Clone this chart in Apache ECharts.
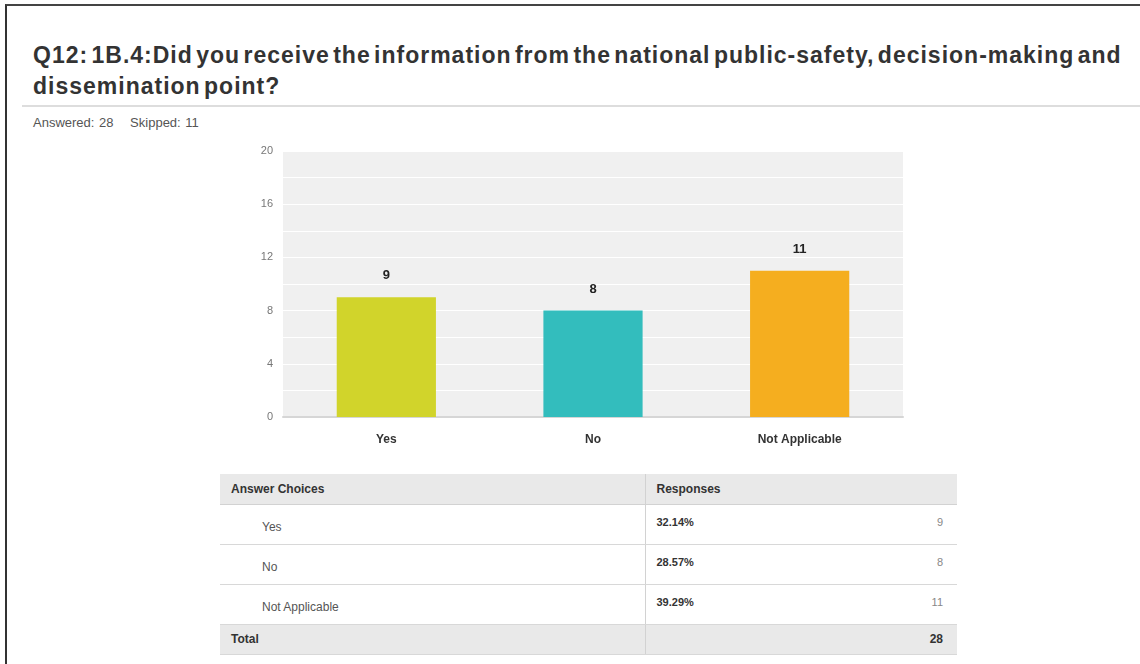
<!DOCTYPE html>
<html>
<head>
<meta charset="utf-8">
<script src="https://cdn.jsdelivr.net/npm/echarts@6/dist/echarts.min.js"></script>
<style>
  html, body { margin: 0; padding: 0; background: #fff; }
  body { width: 1140px; height: 664px; position: relative; overflow: hidden;
         font-family: "Liberation Sans", Arial, sans-serif; }
  #frame { position: absolute; left: 5px; top: 4px; width: 1140px; height: 680px;
           border-left: 2px solid #333; border-top: 2px solid #444; }
  #title { position: absolute; left: 33px; top: 40px; width: 1105px;
           font-size: 23px; font-weight: bold; color: #333; line-height: 31px;
           letter-spacing: 1px; word-spacing: -4px; }
  #rule { position: absolute; left: 22px; top: 105px; width: 1120px; height: 2px; background: #ddd; }
  #meta { position: absolute; left: 33px; top: 115px; font-size: 13px; color: #555; word-spacing: 1px; }
  #meta span { margin-right: 12px; }
  #chart { position: absolute; left: 0; top: 0; width: 1140px; height: 470px; }
  table { position: absolute; left: 220px; top: 474px; width: 737px; border-collapse: collapse;
          table-layout: fixed; font-size: 12px; }
  td { padding: 0; border-bottom: 1px solid #d8d8d8; box-sizing: border-box; }
  tr.head td, tr.total td { background: #e9e9e9; height: 30px; font-weight: bold; color: #333; }
  tr.head td { border-bottom: 1px solid #d2d2d2; }
  tr.row td { height: 40px; vertical-align: top; }
  td.c1 { border-right: 1px solid #d2d2d2; }
  tr.head td.c1, tr.total td.c1 { padding-left: 11px; }
  tr.row td.c1 { padding-left: 42px; color: #555; padding-top: 15px; }
  td.c2 { padding-left: 11px; }
  tr.row td.c2 { font-weight: bold; color: #333; font-size: 11px; padding-top: 11px; }
  td.c3 { text-align: right; padding-right: 14px; }
  tr.row td.c3 { color: #888; font-size: 11px; padding-top: 11px; }
</style>
</head>
<body>
<div id="frame"></div>
<div id="title">Q12: 1B.4:Did you receive the information from the national public-safety, decision-making and dissemination point?</div>
<div id="rule"></div>
<div id="meta"><span>Answered: 28</span> Skipped: 11</div>
<div id="chart"></div>
<table id="tbl"></table>
<script>
// Survey answers and counts
const categories = ['Yes', 'No', 'Not Applicable'];
const counts = [9, 8, 11];
const percents = ['32.14%', '28.57%', '39.29%'];
const barColors = ['#d1d42b', '#33bdbd', '#f5ae1f'];
const totalAnswered = 28;

// Responses table
const tbl = document.getElementById('tbl');
let html = '<colgroup><col style="width:425px"><col style="width:200px"><col style="width:112px"></colgroup>';
html += '<tr class="head"><td class="c1">Answer Choices</td><td class="c2" colspan="2">Responses</td></tr>';
categories.forEach((c, i) => {
  html += '<tr class="row"><td class="c1">' + c + '</td><td class="c2">' + percents[i] +
          '</td><td class="c3">' + counts[i] + '</td></tr>';
});
html += '<tr class="total"><td class="c1">Total</td><td class="c2"></td><td class="c3">' + totalAnswered + '</td></tr>';
tbl.innerHTML = html;

// Bar chart
const chart = echarts.init(document.getElementById('chart'), null, { renderer: 'canvas' });
chart.setOption({
  animation: false,
  grid: { left: 283, top: 151, width: 620, height: 266, show: true,
          backgroundColor: '#f0f0f0', borderWidth: 0 },
  xAxis: {
    type: 'category', data: categories,
    axisLine: { lineStyle: { color: '#d6d6d6', width: 2 } },
    axisTick: { show: false },
    axisLabel: { fontFamily: 'Liberation Sans, Arial', fontWeight: 'bold', fontSize: 12,
                 color: '#333', margin: 17 }
  },
  yAxis: {
    type: 'value', min: 0, max: 20, interval: 4,
    axisLine: { show: false }, axisTick: { show: false },
    axisLabel: { fontFamily: 'Liberation Sans, Arial', fontSize: 11, color: '#777', margin: 10 },
    splitLine: { lineStyle: { color: '#ffffff', width: 1 } },
    minorTick: { show: false, splitNumber: 2 },
    minorSplitLine: { show: true, lineStyle: { color: '#ffffff', width: 1 } }
  },
  series: [{
    type: 'bar',
    data: counts.map((v, i) => ({ value: v, itemStyle: { color: barColors[i] } })),
    barWidth: '48%',
    label: { show: true, position: 'top', distance: 15, fontFamily: 'Liberation Sans, Arial',
             fontWeight: 'bold', fontSize: 13, color: '#222' }
  }]
});
</script>
</body>
</html>
